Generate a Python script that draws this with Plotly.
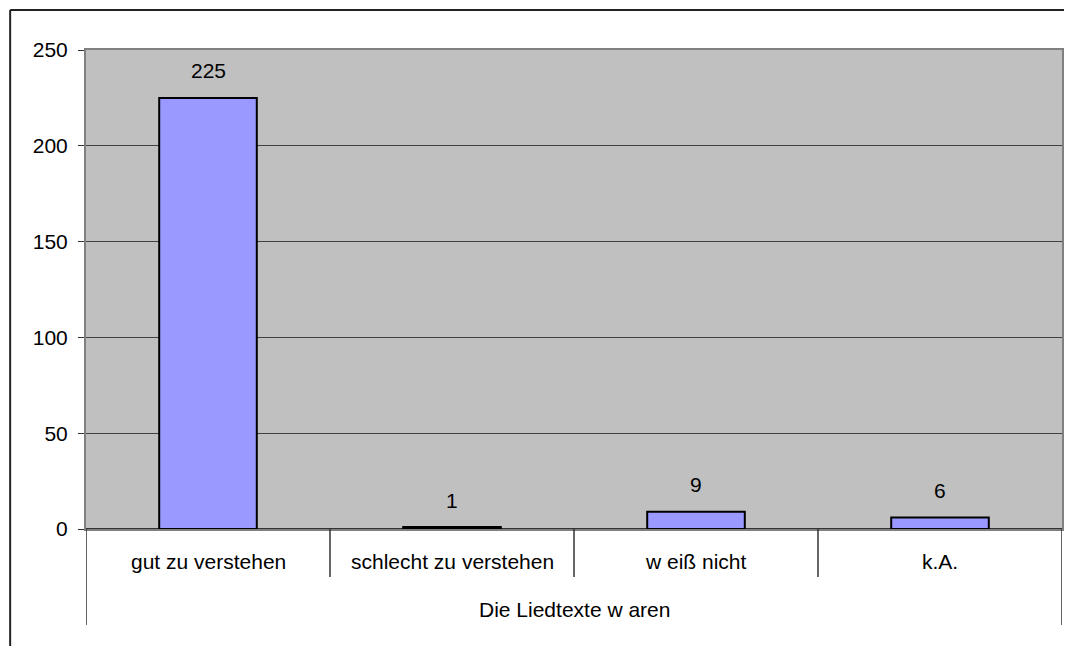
import plotly.graph_objects as go

# Data
categories = ["gut zu verstehen", "schlecht zu verstehen", "w eiß nicht", "k.A."]
counts = [225, 1, 9, 6]
group_label = "Die Liedtexte w aren"
y_ticks = [0, 50, 100, 150, 200, 250]

FONT = "Liberation Sans, Arial, sans-serif"
FS = 21
plot_h = 479  # pixel height of plot area, used to place things below the axis
plot_w = 978

fig = go.Figure()

fig.add_trace(go.Bar(
    x=list(range(len(categories))),
    y=counts,
    width=0.4,
    marker=dict(color="#9999FF", line=dict(color="black", width=2)),
    hoverinfo="skip",
))

# value labels above the bars
for i, v in enumerate(counts):
    fig.add_annotation(x=i, y=v, text=str(v), showarrow=False,
                       yanchor="middle", yshift=27,
                       font=dict(size=FS, color="black", family=FONT))

# category labels and separators (multi-level category axis)
for i, c in enumerate(categories):
    fig.add_annotation(x=i, y=-32 / plot_h, yref="paper", text=c, showarrow=False,
                       yanchor="middle",
                       font=dict(size=FS, color="black", family=FONT))
for b in range(len(categories) + 1):
    outer = b == 0 or b == len(categories)
    fig.add_shape(type="line", xref="x", yref="paper",
                  x0=b - 0.5, x1=b - 0.5, y0=0,
                  y1=(-96 if outer else -48) / plot_h,
                  line=dict(color="#333333", width=1.5))

fig.add_annotation(x=(len(categories) - 1) / 2, y=-80 / plot_h, yref="paper",
                   text=group_label, showarrow=False, yanchor="middle",
                   font=dict(size=FS, color="black", family=FONT))

# outer chart border (left and top visible)
fig.add_shape(type="line", xref="paper", yref="paper",
              x0=-76 / plot_w, x1=-76 / plot_w, y0=519 / plot_h, y1=-140 / plot_h,
              line=dict(color="#222222", width=2))
fig.add_shape(type="line", xref="paper", yref="paper",
              x0=-76 / plot_w, x1=1.1, y0=519 / plot_h, y1=519 / plot_h,
              line=dict(color="#222222", width=2))

# page has an 8px body margin, so the figure is 8px smaller each way
fig.update_layout(
    width=1064, height=638,
    margin=dict(l=78, r=8, t=42, b=117),
    paper_bgcolor="white",
    plot_bgcolor="#C0C0C0",
    showlegend=False,
    font=dict(family=FONT, size=FS, color="black"),
)
fig.update_xaxes(range=[-0.5, len(categories) - 0.5], showticklabels=False,
                 showgrid=False, zeroline=False,
                 showline=True, linecolor="#808080", linewidth=2, mirror=True)
fig.update_yaxes(range=[0, 250], tickvals=y_ticks, showgrid=True,
                 gridcolor="#404040", gridwidth=1,
                 zeroline=True, zerolinecolor="#333333", zerolinewidth=2,
                 showline=True, linecolor="#808080", linewidth=2, mirror=True,
                 ticks="outside", ticklen=6, tickcolor="#333333",
                 ticklabelstandoff=6)

fig.write_html("out.html")
